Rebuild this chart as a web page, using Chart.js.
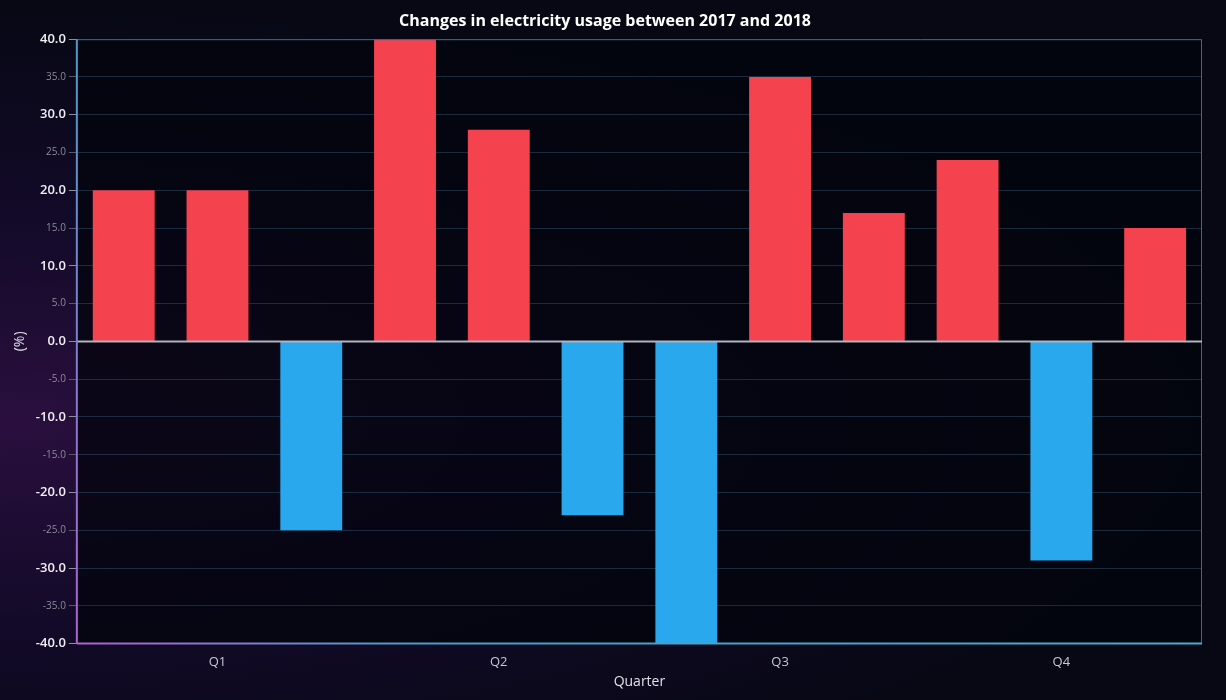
<!DOCTYPE html>
<html>
<head>
<meta charset="utf-8">
<script src="https://cdn.jsdelivr.net/npm/chart.js@4"></script>
<style>
  html, body { margin: 0; padding: 0; }
  body {
    width: 1226px; height: 700px; overflow: hidden;
    background: radial-gradient(ellipse at 0% 60%, #2a0f3e 0%, #120a28 35%, #070814 70%), #070814;
  }
  #wrap { position: relative; width: 1226px; height: 700px; }
</style>
</head>
<body>
<div id="wrap"><canvas id="myChart" width="1226" height="700"></canvas></div>
<script>
const months = ['Jan', 'Feb', 'Mar', 'Apr', 'May', 'Jun', 'Jul', 'Aug', 'Sep', 'Oct', 'Nov', 'Dec'];
const quarterLabels = ['Q1', 'Q2', 'Q3', 'Q4'];
const changes = [20, 20, -25, 40, 28, -23, -40, 35, 17, 24, -29, 15];

const isMajor = c => !!(c && c.tick && c.tick.value % 10 === 0);

const plotBg = {
    id: 'plotBg',
    beforeDraw: chart => {
        const { ctx, chartArea: a } = chart;
        ctx.save();
        ctx.fillStyle = 'rgba(3,4,12,0.75)';
        ctx.fillRect(a.left, a.top, a.width, a.height);
        ctx.restore();
    },
    afterDatasetsDraw: chart => {
        const { ctx, chartArea: a, scales } = chart;
        const y0 = scales.y.getPixelForValue(0);
        ctx.save();
        ctx.strokeStyle = '#2b6f93';
        ctx.lineWidth = 1;
        ctx.beginPath();
        ctx.moveTo(a.left, a.top + 0.5);
        ctx.lineTo(a.right - 0.5, a.top + 0.5);
        ctx.lineTo(a.right - 0.5, a.bottom);
        ctx.stroke();
        ctx.strokeStyle = '#b0b4bc';
        ctx.lineWidth = 2;
        ctx.beginPath();
        ctx.moveTo(a.left, y0);
        ctx.lineTo(a.right, y0);
        ctx.stroke();
        const g = ctx.createLinearGradient(0, a.top, 0, a.bottom);
        g.addColorStop(0, '#4a9cc8');
        g.addColorStop(1, '#b060d0');
        ctx.strokeStyle = g;
        ctx.beginPath();
        ctx.moveTo(a.left, a.top);
        ctx.lineTo(a.left, a.bottom);
        ctx.stroke();
        const g2 = ctx.createLinearGradient(a.left, 0, a.right, 0);
        g2.addColorStop(0, '#b060d0');
        g2.addColorStop(0.3, '#4a9cc8');
        g2.addColorStop(1, '#4aaad0');
        ctx.strokeStyle = g2;
        ctx.beginPath();
        ctx.moveTo(a.left, a.bottom);
        ctx.lineTo(a.right, a.bottom);
        ctx.stroke();
        ctx.restore();
    }
};

const ctx = document.getElementById('myChart').getContext('2d');
const myChart = new Chart(ctx, {
    type: 'bar',
    data: {
        labels: months,
        datasets: [{
            label: 'Change',
            data: changes,
            backgroundColor: changes.map(v => v >= 0 ? '#f5424f' : '#29a8ee'),
            barPercentage: 0.66,
            categoryPercentage: 1
        }]
    },
    options: {
        responsive: false,
        animation: false,
        devicePixelRatio: 1,
        layout: { padding: { left: 8, right: 24, top: 4, bottom: 6 } },
        plugins: {
            legend: { display: false },
            tooltip: { enabled: false },
            title: {
                display: true,
                text: 'Changes in electricity usage between 2017 and 2018',
                color: '#ffffff',
                font: { family: 'Open Sans', size: 16 },
                padding: { top: 8, bottom: 8 }
            }
        },
        scales: {
            x: {
                grid: { display: false },
                border: { display: false },
                ticks: {
                    color: '#c8c8d0',
                    font: { family: 'Open Sans', size: 13 },
                    autoSkip: false,
                    maxRotation: 0,
                    callback: (v, i) => i % 3 === 1 ? quarterLabels[(i - 1) / 3] : ''
                },
                title: {
                    display: true, text: 'Quarter', color: '#e0e0e8',
                    font: { family: 'Open Sans', size: 14 }, padding: { top: 0 }
                }
            },
            y: {
                min: -40,
                max: 40,
                grid: {
                    color: 'rgba(50,90,120,0.45)',
                    tickColor: c => isMajor(c) ? '#8a8f9a' : '#555a66',
                    tickLength: 8
                },
                border: { display: false },
                ticks: {
                    stepSize: 5,
                    autoSkip: false,
                    callback: v => v.toFixed(1),
                    color: c => isMajor(c) ? '#f0f0f4' : '#8a8c96',
                    font: c => isMajor(c)
                        ? { family: 'Open Sans', size: 13, weight: '600' }
                        : { family: 'Open Sans', size: 10 }
                },
                title: {
                    display: true, text: '(%)', color: '#e0e0e8',
                    font: { family: 'Open Sans', size: 14 }
                }
            }
        }
    },
    plugins: [plotBg]
});
</script>
</body>
</html>
